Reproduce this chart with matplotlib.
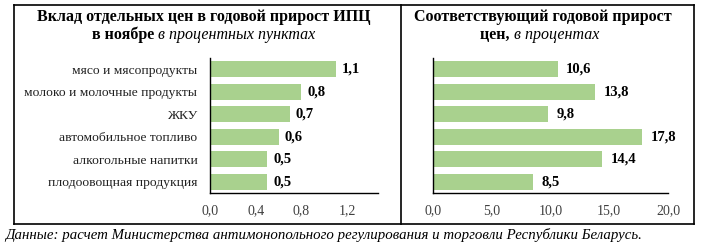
import matplotlib.pyplot as plt
from matplotlib.lines import Line2D

plt.rcParams['font.family'] = ['Liberation Serif', 'DejaVu Serif']

categories = ['мясо и мясопродукты', 'молоко и молочные продукты', 'ЖКУ',
              'автомобильное топливо', 'алкогольные напитки', 'плодоовощная продукция']
contrib = [1.1, 0.8, 0.7, 0.6, 0.5, 0.5]
growth = [10.6, 13.8, 9.8, 17.8, 14.4, 8.5]
left_ticks = [0.0, 0.4, 0.8, 1.2]
right_ticks = [0.0, 5.0, 10.0, 15.0, 20.0]

W, H = 710, 248
fig = plt.figure(figsize=(W / 100, H / 100), dpi=100)

def box(x0, y0, x1, y1):
    return [x0 / W, 1 - y1 / H, (x1 - x0) / W, (y1 - y0) / H]

green = '#a9d18e'
fmt = lambda v: ('%.1f' % v).replace('.', ',')

def panel(rect, vals, ticks, xmax, ticklabels=None):
    ax = fig.add_axes(rect)
    y = range(len(vals))
    ax.barh(y, vals, height=0.7, color=green)
    ax.set_ylim(len(vals) - 0.5, -0.5)
    ax.set_xlim(0, xmax)
    ax.set_xticks(ticks)
    ax.set_xticklabels([fmt(t) for t in ticks], fontsize=10, color='#404040')
    for s in ['top', 'right']:
        ax.spines[s].set_visible(False)
    for s in ['left', 'bottom']:
        ax.spines[s].set_linewidth(1.0)
    ax.tick_params(length=0, pad=8)
    if ticklabels:
        ax.set_yticks(list(y))
        ax.set_yticklabels(ticklabels, fontsize=9.7, color='#202020')
        ax.tick_params(axis='y', pad=9)
    else:
        ax.set_yticks([])
    for i, v in enumerate(vals):
        ax.text(v + xmax * 0.035, i, fmt(v), va='center', ha='left',
                fontsize=10.5, fontweight='bold')
    return ax

panel(box(210, 58, 378, 193), contrib, left_ticks, 1.47, categories)
panel(box(433, 58, 668, 193), growth, right_ticks, 20.0)

# frames
lw = 1.2
for xs, ys in [((14, 694), (5, 5)), ((14, 694), (224, 224)), ((14, 14), (5, 224)),
               ((694, 694), (5, 224)), ((401, 401), (5, 224))]:
    fig.add_artist(Line2D([x / W for x in xs], [1 - y / H for y in ys],
                          color='black', lw=lw))

# titles
fs = 11.5
fig.text(204 / W, 1 - 17 / H, 'Вклад отдельных цен в годовой прирост ИПЦ',
         ha='center', va='center', fontsize=fs, fontweight='bold')
fig.text(158 / W, 1 - 35 / H, 'в ноябре ', ha='right', va='center',
         fontsize=fs, fontweight='bold')
fig.text(158 / W, 1 - 35 / H, 'в процентных пунктах', ha='left', va='center',
         fontsize=fs, style='italic')

fig.text(543 / W, 1 - 17 / H, 'Соответствующий годовой прирост',
         ha='center', va='center', fontsize=fs, fontweight='bold')
fig.text(514 / W, 1 - 35 / H, 'цен, ', ha='right', va='center',
         fontsize=fs, fontweight='bold')
fig.text(514 / W, 1 - 35 / H, 'в процентах', ha='left', va='center',
         fontsize=fs, style='italic')

fig.text(5 / W, 1 - 235 / H,
         'Данные: расчет Министерства антимонопольного регулирования и торговли Республики Беларусь.',
         ha='left', va='center', fontsize=10.7, style='italic')

fig.savefig('out.png', dpi=100)
